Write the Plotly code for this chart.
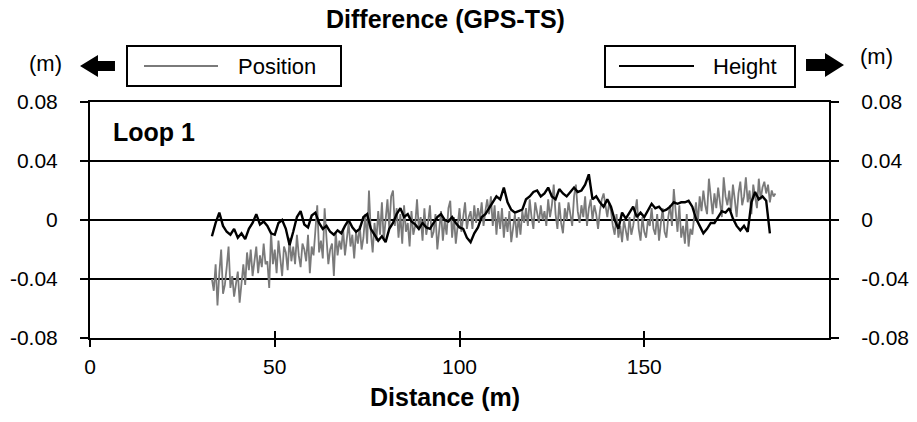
import numpy as np
import plotly.graph_objects as go

# GPS minus total station, in mm
# Position: sampled every 0.5 m from 33 m
pos_start, pos_step = 33.0, 0.5
pos_mm = [
    -40, -48, -30, -58, -36, -20, -50, -44, -32, -18,
    -46, -38, -52, -42, -35, -56, -40, -30, -44, -22,
    -34, -20, -38, -26, -18, -36, -24, -32, -16, -30,
    -28, -46, -8, -30, -20, -36, -14, -26, -38, -18,
    -22, -34, -12, -28, -18, -30, -10, -24, -32, -16,
    -20, -28, -10, -36, -18, -24, -4, 10, -22, -14,
    -26, 8, -12, -30, -20, -16, -38, -8, -24, -14,
    -20, -6, -24, -12, -2, -18, -10, -26, -8, -16,
    -4, -20, -12, 4, -16, 20, -8, -22, -2, -14,
    6, -10, 12, -14, 2, 14, -6, 16, 20, -4,
    8, -12, 4, -16, 10, -8, -2, -18, 6, -10,
    -4, 14, -6, 2, -14, 8, -10, -2, 10, -12,
    -8, 4, -20, -6, 6, -14, 0, -10, 8, 13,
    -12, 2, -16, -4, 8, -8, 4, 12, -6, 2,
    6, -6, 10, -2, 8, 0, 12, -4, 6, 14,
    4, 16, -4, 10, -10, 6, -6, 8, -12, 2,
    -8, 6, -15, -4, 4, -12, 2, -10, 6, -2,
    8, -4, 14, 2, -6, 12, 4, -2, 10, 0,
    6, -4, 14, 2, 10, 24, 4, -6, 12, -2,
    -9, 8, 0, 12, 4, -4, 16, 24, 6, -2,
    10, 2, 16, -4, 8, 14, 0, 10, 4, -6,
    6, 14, 18, 10, 2, 12, 6, -4, -10, 4,
    -12, -4, -15, 0, -8, -14, 2, -10, -4, 6,
    14, -6, -14, 2, -8, -12, 0, -4, 8, -6,
    -10, 4, -14, -2, 8, -8, -12, 2, 10, -4,
    21, 6, -8, 10, -12, -4, -16, 4, -18, -6,
    -10, 2, 12, -2, 16, 6, 20, 10, 4, 28,
    14, 4, 18, 8, 22, 12, 2, 29, 16, 10,
    20, 6, 24, 14, 2, 18, 26, 10, 16, 29,
    12, 20, 4, 24, 16, 8, 28, 14, 22, 26,
    18, 24, 12, 20, 16, 18,
]

# Height: every 1 m from 33 m
hgt_start, hgt_step = 33.0, 1.0
hgt_mm = [
    -11, -2, 5, -4, -8, -10, -6, -12, -9, -13,
    -6, -2, 4, -3, -1, -4, -9, -10, -2, 0,
    -6, -17, -8, 2, 6, -3, -5, 3, 5, -2,
    -6, -4, -8, -10, -7, -9, -4, 0, -5, -8,
    -6, 2, 4, -6, -10, -14, -11, -15, -6, -2,
    4, 8, 2, 4, -1, -3, -6, -2, -5, -6,
    -2, 2, 4, 0, -1, 2, -2, -5, -6, -12,
    -15, -9, -5, 2, 4, 8, 12, 16, 14, 22,
    12, 7, 5, 6, 7, 14, 16, 19, 20, 16,
    18, 22, 16, 14, 21, 18, 16, 19, 22, 19,
    20, 24, 31, 14, 16, 12, 9, 14, 9, 0,
    -6, 5, 1, 5, 9, 2, 5, 2, 7, 11,
    8, 9, 6, 7, 9, 12, 11, 12, 12, 13,
    9, 1, -4, -9, -6, -2, -2, 2, 6, 5,
    8, 1, -4, -7, -4, -8, 12, 19, 14, 16,
    13, -9,
]

x_ticks = [0, 50, 100, 150]
y_ticks = [-0.08, -0.04, 0, 0.04, 0.08]
y_labels = ["-0.08", "-0.04", "0", "0.04", "0.08"]

pos_dist = pos_start + pos_step * np.arange(len(pos_mm))
hgt_dist = hgt_start + hgt_step * np.arange(len(hgt_mm))
pos_m = np.array(pos_mm) / 1000
hgt_m = np.array(hgt_mm) / 1000

GRAY = "#7a7a7a"
FONT = "Liberation Sans, Arial, sans-serif"

# plot box in page pixels (body margin is removed below)
L, R, T, B = 90, 829, 102, 338
W, H = 917, 422


def px(x):
    return (x - L) / (R - L)


def py(y):
    return (B - y) / (B - T)


def poly(points):
    return "M " + " L ".join(f"{px(a):.4f},{py(b):.4f}" for a, b in points) + " Z"


fig = go.Figure()

fig.add_trace(go.Scatter(
    x=pos_dist, y=pos_m, mode="lines", name="Position",
    line=dict(color=GRAY, width=1.8), xaxis="x", yaxis="y"
))
fig.add_trace(go.Scatter(
    x=hgt_dist, y=hgt_m, mode="lines", name="Height",
    line=dict(color="black", width=2.4), xaxis="x2", yaxis="y2"
))

axis_y = dict(
    range=[-0.08, 0.08], tickvals=y_ticks, ticktext=y_labels,
    ticks="outside", ticklen=8, tickwidth=2, tickcolor="black",
    showline=True, linewidth=2, linecolor="black",
    showgrid=True, gridcolor="black", gridwidth=2,
    zeroline=False, automargin=False,
    tickfont=dict(size=21, color="black", family=FONT),
)

fig.update_layout(
    width=W, height=H,
    margin=dict(l=L, r=W - R, t=T, b=H - B, autoexpand=False),
    paper_bgcolor="white", plot_bgcolor="white",
    showlegend=False,
    font=dict(family=FONT, color="black"),
    xaxis=dict(
        range=[0, 200], tickvals=x_ticks,
        ticks="outside", ticklen=7, tickwidth=2, tickcolor="black",
        showline=True, linewidth=2, linecolor="black", mirror=True,
        showgrid=False, zeroline=False, automargin=False,
        ticklabelstandoff=2,
        tickfont=dict(size=21, color="black"),
    ),
    xaxis2=dict(
        range=[0, 200], tickvals=x_ticks, overlaying="x", anchor="y2",
        ticks="inside", ticklen=7, tickwidth=2, tickcolor="black",
        showticklabels=False, showline=False, showgrid=False, zeroline=False,
        automargin=False,
    ),
    yaxis=dict(axis_y, side="left", ticklabelstandoff=18),
    yaxis2=dict(axis_y, side="right", overlaying="y", anchor="x2",
                showgrid=False, ticklabelstandoff=18),
)

shapes = [
    # legend boxes and their line samples
    dict(type="rect", x0=px(127), x1=px(341), y0=py(86), y1=py(46)),
    dict(type="line", x0=px(144), x1=px(218), y0=py(66), y1=py(66),
         line=dict(color=GRAY, width=2)),
    dict(type="rect", x0=px(605), x1=px(795), y0=py(87), y1=py(46)),
    dict(type="line", x0=px(619), x1=px(694), y0=py(66), y1=py(66),
         line=dict(color="black", width=2)),
    # block arrows pointing at the axis each series belongs to
    dict(type="path", path=poly([(80, 66), (98, 55), (98, 61), (115, 61),
                                 (115, 71), (98, 71), (98, 77)]),
         fillcolor="black", line=dict(width=0)),
    dict(type="path", path=poly([(844, 65), (825, 53), (825, 59), (806, 59),
                                 (806, 71), (825, 71), (825, 77)]),
         fillcolor="black", line=dict(width=0)),
]
for s in shapes:
    s.update(xref="paper", yref="paper", layer="above")
    if s["type"] == "rect":
        s["line"] = dict(color="black", width=2)
        s["fillcolor"] = "white"
fig.update_layout(shapes=shapes)

notes = [
    ("<b>Difference (GPS-TS)</b>", 445, 19, "center", 25),
    ("(m)", 45, 63, "center", 22),
    ("(m)", 877, 56, "center", 22),
    ("Position", 236, 66, "left", 22),
    ("Height", 711, 66, "left", 22),
    ("<b>Loop 1</b>", 111, 132, "left", 25),
    ("<b>Distance (m)</b>", 445, 397, "center", 25),
]
for text, x, y, anchor, size in notes:
    fig.add_annotation(
        text=text, x=px(x), y=py(y), xref="paper", yref="paper",
        xanchor=anchor, yanchor="middle", showarrow=False,
        font=dict(size=size, color="black"),
    )

fig.write_html("out.html", config={"displayModeBar": False},
               post_script="document.body.style.margin = '0';")
